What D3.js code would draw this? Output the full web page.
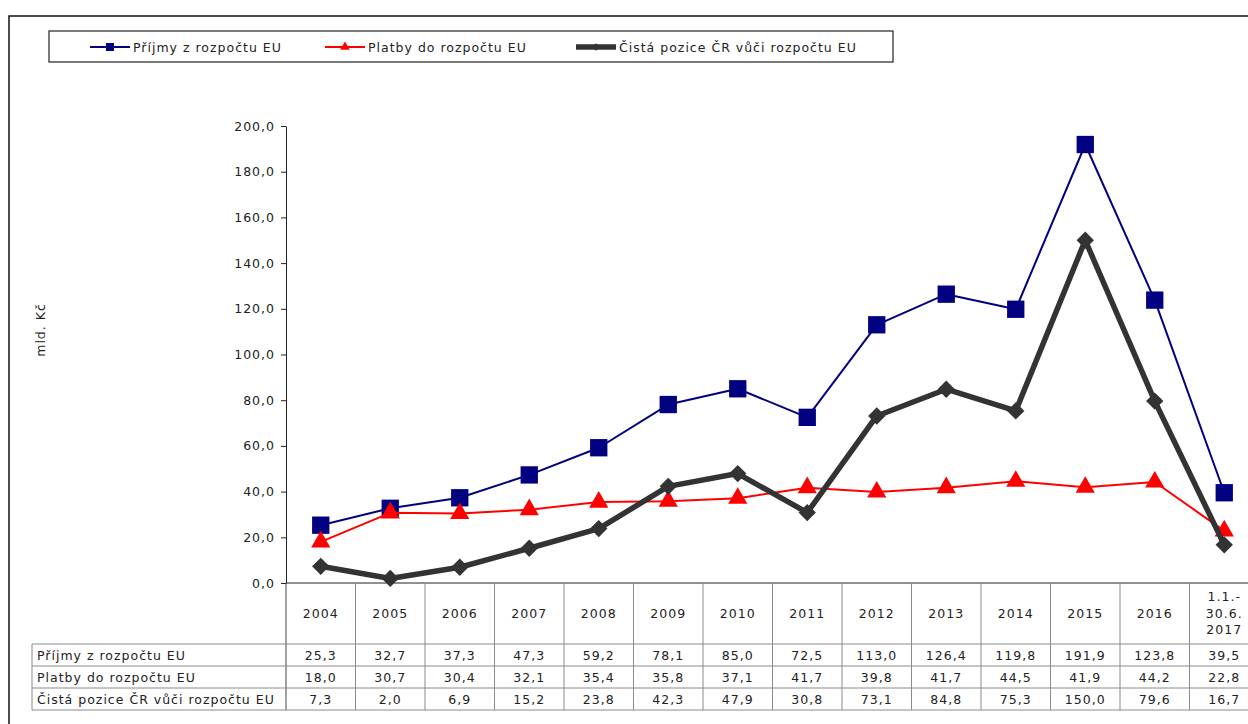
<!DOCTYPE html>
<html>
<meta charset="utf-8">
<script src="https://d3js.org/d3.v7.min.js"></script>
<style>
  body { margin: 0; background: #fff; }
  text { font-family: "DejaVu Sans", Verdana, sans-serif; fill: #222; letter-spacing: 1px; }
</style>
<div id="chart"></div>
<script>

// data
var categories = ["2004","2005","2006","2007","2008","2009","2010","2011","2012","2013","2014","2015","2016","1.1.-|30.6.|2017"];
var prijmy = [25.3, 32.7, 37.3, 47.3, 59.2, 78.1, 85.0, 72.5, 113.0, 126.4, 119.8, 191.9, 123.8, 39.5];
var platby = [18.0, 30.7, 30.4, 32.1, 35.4, 35.8, 37.1, 41.7, 39.8, 41.7, 44.5, 41.9, 44.2, 22.8];
var cista = [7.3, 2.0, 6.9, 15.2, 23.8, 42.3, 47.9, 30.8, 73.1, 84.8, 75.3, 150.0, 79.6, 16.7];
var seriesNames = ["Příjmy z rozpočtu EU", "Platby do rozpočtu EU", "Čistá pozice ČR vůči rozpočtu EU"];
var yTicks = [0, 20, 40, 60, 80, 100, 120, 140, 160, 180, 200];

var W = 1248, H = 724;
var plotLeft = 286, plotTop = 126, plotBottom = 583;
var bandW = 69.5;
var fontFam = "'DejaVu Sans', Verdana, sans-serif";

var svg = d3.select("#chart").append("svg")
    .attr("width", W)
    .attr("height", H);

// outer frame
svg.append("rect")
    .attr("x", 9).attr("y", 16)
    .attr("width", 1300).attr("height", 800)
    .attr("fill", "none").attr("stroke", "#111").attr("stroke-width", 1.5);

var x = d3.scaleBand()
    .domain(categories)
    .range([plotLeft, plotLeft + bandW * categories.length]);

var y = d3.scaleLinear()
    .domain([0, 200])
    .range([plotBottom, plotTop]);

var fmt = function(v) { return d3.format(".1f")(v).replace(".", ","); };

//----------//
//   Axis   //
//----------//

var yAxis = svg.append("g")
    .attr("transform", "translate(" + plotLeft + ",0)")
    .call(d3.axisLeft(y).tickValues(yTicks).tickFormat(fmt).tickSize(5).tickSizeOuter(0));
yAxis.select(".domain").attr("stroke", "#222");
yAxis.selectAll(".tick line").attr("stroke", "#222");
yAxis.selectAll("text")
    .attr("x", -11)
    .style("font-size", "12.5px")
    .style("font-family", fontFam)
    .attr("fill", "#222");

svg.append("text")
    .attr("transform", "translate(45,330) rotate(-90)")
    .attr("text-anchor", "middle")
    .style("font-size", "12.5px")
    .text("mld. Kč");

//-----------//
//   Table   //
//-----------//

var rowTop = [644, 666, 688];
var rowH = 22;
var tableLeft = 32;
var tableRight = 1300;
var grid = "#8a8a8a";

// x axis line (top of header row)
svg.append("line")
    .attr("x1", plotLeft).attr("x2", tableRight)
    .attr("y1", plotBottom).attr("y2", plotBottom)
    .attr("stroke", "#222");

// vertical separators
var edges = categories.map(function(c) { return x(c); }).concat([x.range()[1]]);
svg.selectAll("vsep")
    .data(edges)
    .enter()
    .append("line")
        .attr("x1", function(d) { return d; })
        .attr("x2", function(d) { return d; })
        .attr("y1", plotBottom)
        .attr("y2", rowTop[2] + rowH)
        .attr("stroke", function(d, i) { return i == 0 ? "#444" : grid; });

svg.append("line")
    .attr("x1", tableLeft).attr("x2", tableLeft)
    .attr("y1", rowTop[0]).attr("y2", rowTop[2] + rowH)
    .attr("stroke", grid);

// horizontal lines
svg.selectAll("hsep")
    .data(rowTop.concat([rowTop[2] + rowH]))
    .enter()
    .append("line")
        .attr("x1", tableLeft).attr("x2", tableRight)
        .attr("y1", function(d) { return d; })
        .attr("y2", function(d) { return d; })
        .attr("stroke", grid);

// header labels
svg.selectAll("hdr")
    .data(categories)
    .enter()
    .append("text")
        .attr("x", function(d) { return x(d) + x.bandwidth() / 2; })
        .attr("y", function(d) { return d.indexOf("|") >= 0 ? 601 : 618; })
        .attr("text-anchor", "middle")
        .style("font-size", "12.5px")
        .each(function(d) {
            var parts = d.split("|");
            var t = d3.select(this);
            parts.forEach(function(p, i) {
                t.append("tspan")
                    .attr("x", x(d) + x.bandwidth() / 2)
                    .attr("dy", i == 0 ? 0 : 16.5)
                    .text(p);
            });
        });

var tableRows = [prijmy, platby, cista];
tableRows.forEach(function(vals, r) {
    svg.append("text")
        .attr("x", tableLeft + 5)
        .attr("y", rowTop[r] + 16)
        .style("font-size", "12.5px")
        .text(seriesNames[r]);
    svg.selectAll("cell" + r)
        .data(vals)
        .enter()
        .append("text")
            .attr("x", function(d, i) { return x(categories[i]) + x.bandwidth() / 2; })
            .attr("y", rowTop[r] + 16)
            .attr("text-anchor", "middle")
            .style("font-size", "12.5px")
            .text(function(d) { return fmt(d); });
});

//-----------//
//   Lines   //
//-----------//

var cx = function(d, i) { return x(categories[i]) + x.bandwidth() / 2; };
var line = d3.line()
    .x(cx)
    .y(function(d) { return y(d); });

var series = [
    {vals: prijmy, color: "#000080", width: 2, symbol: d3.symbolSquare, size: 300, rot: 0},
    {vals: platby, color: "#ff0000", width: 2, symbol: d3.symbolTriangle, size: 160, rot: 0},
    {vals: cista, color: "#333333", width: 5.5, symbol: d3.symbolSquare, size: 150, rot: 45}
];

series.forEach(function(s) {
    svg.append("path")
        .datum(s.vals)
        .attr("fill", "none")
        .attr("stroke", s.color)
        .attr("stroke-width", s.width)
        .attr("stroke-linejoin", "round")
        .attr("d", line);
    svg.selectAll("mk")
        .data(s.vals)
        .enter()
        .append("path")
            .attr("d", d3.symbol().type(s.symbol).size(s.size))
            .attr("transform", function(d, i) {
                return "translate(" + cx(d, i) + "," + y(d) + ") rotate(" + s.rot + ")";
            })
            .attr("fill", s.color);
});

//------------//
//   Legend   //
//------------//

svg.append("rect")
    .attr("x", 49).attr("y", 31)
    .attr("width", 844).attr("height", 31)
    .attr("fill", "#fff").attr("stroke", "#222").attr("stroke-width", 1.2);

var legendX = [90, 325, 576];
series.forEach(function(s, i) {
    var lx = legendX[i];
    svg.append("line")
        .attr("x1", lx).attr("x2", lx + 40)
        .attr("y1", 47).attr("y2", 47)
        .attr("stroke", s.color)
        .attr("stroke-width", s.width);
    svg.append("path")
        .attr("d", d3.symbol().type(s.symbol).size(i == 0 ? 64 : (i == 1 ? 40 : 30)))
        .attr("transform", "translate(" + (lx + 20) + ",47) rotate(" + s.rot + ")")
        .attr("fill", s.color);
    svg.append("text")
        .attr("x", lx + 43)
        .attr("y", 51.5)
        .style("font-size", "12.5px")
        .text(seriesNames[i]);
});

</script>
</html>
